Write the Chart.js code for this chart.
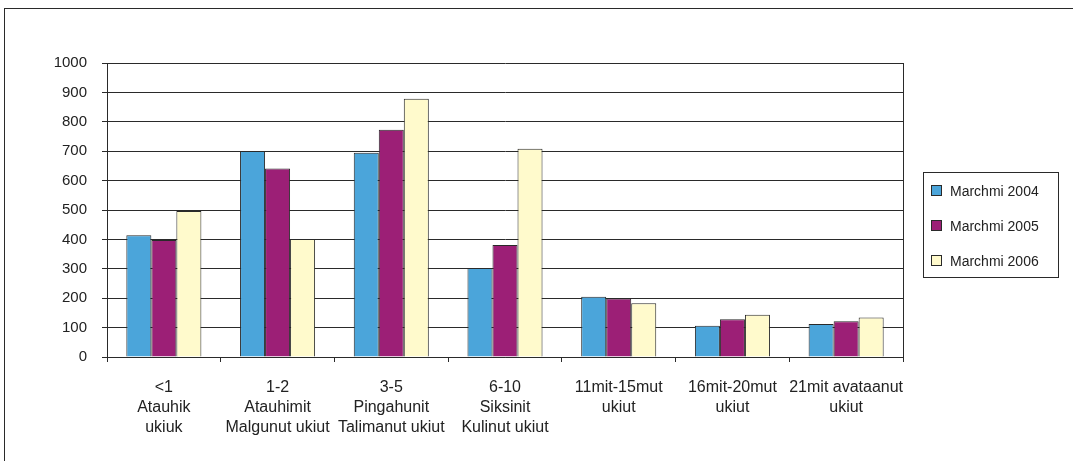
<!DOCTYPE html>
<html>
<head>
<meta charset="utf-8">
<script src="https://cdn.jsdelivr.net/npm/chart.js@4.4.1/dist/chart.umd.min.js"></script>
<style>
  html, body { margin: 0; padding: 0; background: #fff; }
  #wrap { width: 1073px; height: 461px; }
</style>
</head>
<body>
<div id="wrap"><canvas id="c" width="1073" height="461"></canvas></div>
<script>
const categories = [
  ["<1", "Atauhik", "ukiuk"],
  ["1-2", "Atauhimit", "Malgunut ukiut"],
  ["3-5", "Pingahunit", "Talimanut ukiut"],
  ["6-10", "Siksinit", "Kulinut ukiut"],
  ["11mit-15mut", "ukiut"],
  ["16mit-20mut", "ukiut"],
  ["21mit avataanut", "ukiut"]
];
const seriesNames = ["Marchmi 2004", "Marchmi 2005", "Marchmi 2006"];
const values2004 = [414, 701, 695, 303, 205, 106, 112];
const values2005 = [398, 641, 773, 381, 199, 128, 122];
const values2006 = [497, 401, 878, 708, 183, 144, 134];
const yTicks = [0, 100, 200, 300, 400, 500, 600, 700, 800, 900, 1000];

const colors = ["#4BA5DA", "#9C1F76", "#FFFACC"];
const lineColor = "#2a2a2a";
const fontFamily = "'Liberation Sans', Arial, sans-serif";

const frameAndLegend = {
  id: "frameAndLegend",
  afterDraw(chart) {
    const ctx = chart.ctx;
    const ca = chart.chartArea;
    ctx.save();
    ctx.strokeStyle = lineColor;
    ctx.lineWidth = 1;
    ctx.strokeRect(4.5, 8.5, 1200, 600);
    const bx = Math.round(ca.right) + 20, by = 172, bw = 135, bh = 105;
    ctx.strokeRect(bx + 0.5, by + 0.5, bw, bh);
    ctx.font = "14px " + fontFamily;
    ctx.textBaseline = "middle";
    chart.data.datasets.forEach((ds, i) => {
      const cy = by + 19 + i * 35;
      ctx.fillStyle = ds.backgroundColor;
      ctx.fillRect(bx + 8.5, cy - 5.5, 10, 10);
      ctx.strokeStyle = lineColor;
      ctx.strokeRect(bx + 8.5, cy - 5.5, 10, 10);
      ctx.fillStyle = "#222";
      ctx.fillText(ds.label, bx + 27, cy + 1);
    });
    ctx.restore();
  }
};

new Chart(document.getElementById("c"), {
  type: "bar",
  data: {
    labels: categories,
    datasets: [
      { label: seriesNames[0], data: values2004, backgroundColor: colors[0] },
      { label: seriesNames[1], data: values2005, backgroundColor: colors[1] },
      { label: seriesNames[2], data: values2006, backgroundColor: colors[2] }
    ].map(d => Object.assign(d, { borderColor: lineColor, borderWidth: 1, categoryPercentage: 0.66, barPercentage: 1 }))
  },
  options: {
    responsive: false,
    devicePixelRatio: 1,
    animation: false,
    layout: { padding: { top: 63, right: 170, bottom: 0, left: 0 } },
    plugins: {
      legend: { display: false },
      tooltip: { enabled: false },
      title: { display: false }
    },
    scales: {
      x: {
        afterFit(scale) { scale.height = 104; },
        grid: {
          offset: true,
          color: (c) => (c.type === "tick" ? "rgba(0,0,0,0)" : lineColor),
          tickColor: lineColor,
          tickLength: 5,
          lineWidth: 1
        },
        border: { display: true, color: lineColor, width: 1 },
        ticks: {
          color: "#222",
          font: { family: fontFamily, size: 16, lineHeight: 1.25 },
          padding: 16,
          maxRotation: 0,
          autoSkip: false
        }
      },
      y: {
        min: 0,
        max: 1000,
        afterFit(scale) { scale.width = 107; },
        afterBuildTicks(scale) { scale.ticks = yTicks.map(v => ({ value: v })); },
        grid: { color: lineColor, tickColor: lineColor, tickLength: 5, lineWidth: 1 },
        border: { display: true, color: lineColor, width: 1 },
        ticks: {
          color: "#222",
          font: { family: fontFamily, size: 15 },
          padding: 15,
          callback: (v) => String(v)
        }
      }
    }
  },
  plugins: [frameAndLegend]
});
</script>
</body>
</html>
